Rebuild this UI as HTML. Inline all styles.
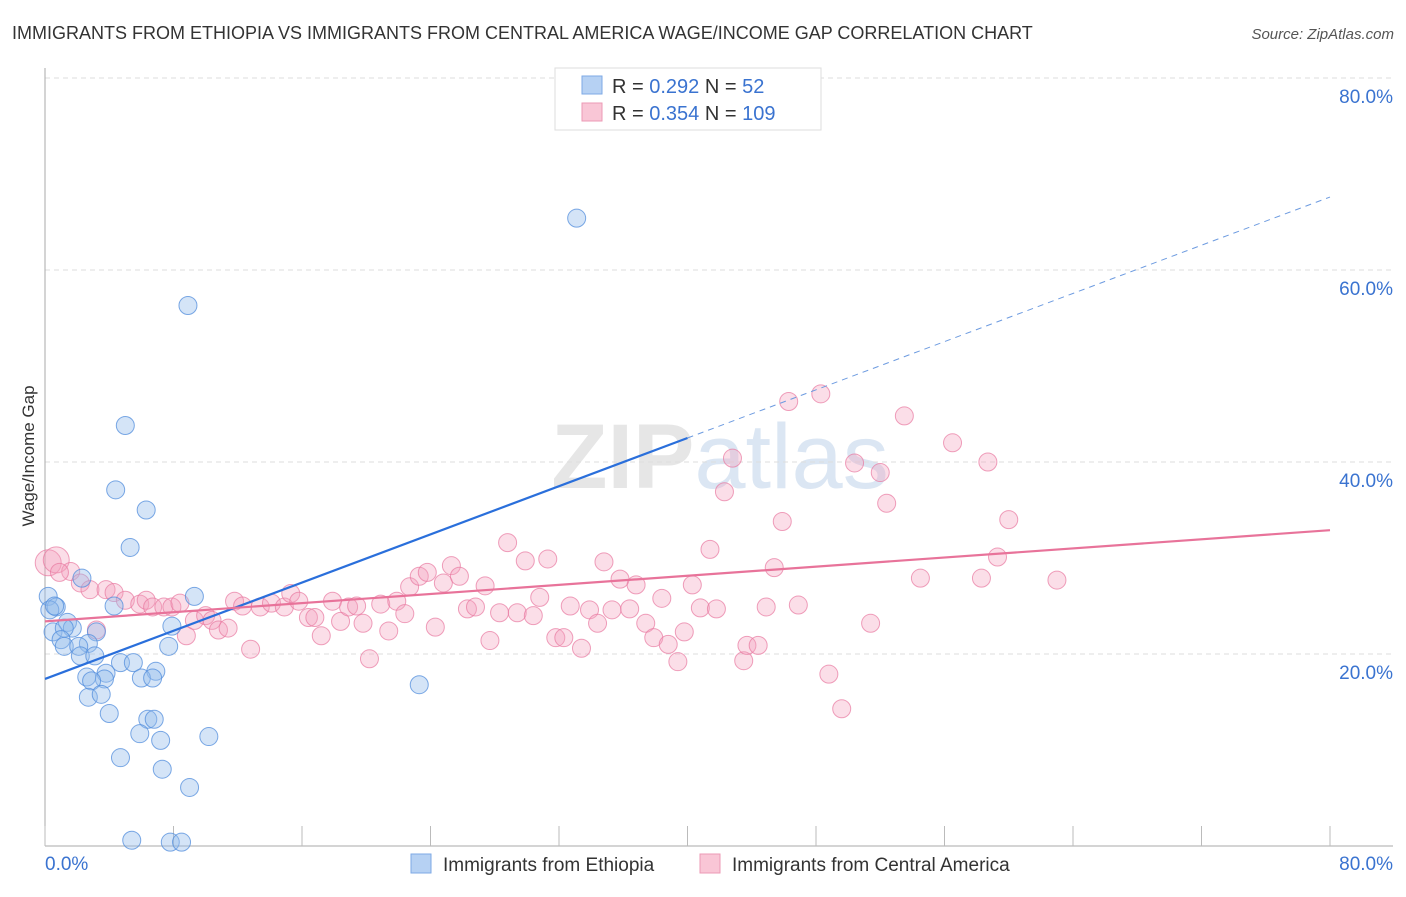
<!DOCTYPE html>
<html><head><meta charset="utf-8"><style>
body{margin:0;background:#fff;font-family:"Liberation Sans",sans-serif;}
svg text{font-family:"Liberation Sans",sans-serif;}
</style></head><body>
<svg id="chart" width="1406" height="892" xmlns="http://www.w3.org/2000/svg">
<text x="12" y="39" font-size="18" fill="#333">IMMIGRANTS FROM ETHIOPIA VS IMMIGRANTS FROM CENTRAL AMERICA WAGE/INCOME GAP CORRELATION CHART</text>
<text x="1394" y="39" font-size="15" fill="#555" text-anchor="end" font-style="italic">Source: ZipAtlas.com</text>
<text x="720" y="488" font-size="92" fill="#e6e6e6" text-anchor="middle" font-family="Liberation Serif"><tspan font-weight="bold">ZIP</tspan><tspan fill="#dbe6f3" font-family="Liberation Sans">atlas</tspan></text>
<g id="grid"></g>
<g id="axes"></g>
<g id="pts"></g>
<g id="lines"></g>
<text transform="translate(34,456) rotate(-90)" font-size="17" fill="#333" text-anchor="middle">Wage/Income Gap</text>
<g>
<rect x="555" y="68" width="266" height="62" fill="#fff" stroke="#ddd"/>
<rect x="582" y="76" width="20" height="18" fill="#b6d1f3" stroke="#7ea9e6"/>
<rect x="582" y="103" width="20" height="18" fill="#f9c6d6" stroke="#ec9ab5"/>
<text x="612" y="93" font-size="20" fill="#333">R = <tspan fill="#3a73d0">0.292</tspan>   N = <tspan fill="#3a73d0">  52</tspan></text>
<text x="612" y="120" font-size="20" fill="#333">R = <tspan fill="#3a73d0">0.354</tspan>   N = <tspan fill="#3a73d0">109</tspan></text>
</g>
<g>
<rect x="411" y="854" width="20" height="19" fill="#b6d1f3" stroke="#7ea9e6"/>
<text x="443" y="871" font-size="19" fill="#333">Immigrants from Ethiopia</text>
<rect x="700" y="854" width="20" height="19" fill="#f9c6d6" stroke="#ec9ab5"/>
<text x="732" y="871" font-size="19" fill="#333">Immigrants from Central America</text>
</g>
</svg>
<script>
const blueX=[33.1,8.9,5.0,4.4,6.3,5.3,2.3,9.3,0.2,0.7,4.3,0.3,1.4,1.7,0.5,1.2,3.2,7.9,1.0,2.7,1.2,2.1,7.7,2.2,3.1,4.7,5.5,3.8,6.9,2.6,3.7,6.0,6.7,2.9,23.3,2.7,3.5,4.0,6.4,6.8,5.9,7.2,10.2,4.7,7.3,9.0,5.4,7.8,8.5,0.6];
const blueY=[65.4,56.3,43.8,37.1,35.0,31.1,27.9,26.0,26.0,24.9,25.0,24.6,23.3,22.7,22.3,22.7,22.3,22.9,21.5,21.1,20.8,20.8,20.8,19.8,19.8,19.1,19.1,18.0,18.2,17.6,17.4,17.5,17.5,17.2,16.8,15.5,15.8,13.8,13.2,13.2,11.7,11.0,11.4,9.2,8.0,6.1,0.6,0.4,0.4,25.0];
const pinkX=[0.2,0.7,1.6,2.2,2.8,3.8,4.3,5.0,5.9,6.3,6.7,7.4,7.9,8.4,3.2,8.8,9.3,10.0,10.4,10.8,11.4,11.8,12.3,12.8,13.4,14.1,14.9,15.3,15.8,16.4,16.8,17.2,17.9,18.4,18.9,19.4,19.8,20.2,20.9,21.4,21.9,22.4,22.7,23.3,23.8,24.3,24.8,25.3,25.8,26.3,26.8,27.4,27.7,28.3,28.8,29.4,29.9,30.4,30.8,31.3,31.8,32.3,32.7,33.4,33.9,34.4,34.8,35.3,35.8,36.4,36.8,37.4,37.9,38.4,38.8,39.4,39.8,40.3,40.8,41.4,41.8,42.3,42.8,43.5,43.7,44.4,44.9,45.4,45.9,46.3,46.9,48.3,48.8,49.6,50.4,51.4,52.0,52.4,53.5,54.5,56.5,58.3,58.7,59.3,60.0,63.0,0.9];
const pinkY=[29.5,29.8,28.6,27.4,26.7,26.7,26.4,25.6,25.2,25.6,24.9,24.9,24.9,25.3,22.5,21.9,23.5,24.0,23.5,22.5,22.7,25.5,25.0,20.5,24.9,25.3,24.9,26.3,25.5,23.8,23.8,21.9,25.5,23.4,24.9,25.0,23.2,19.5,25.2,22.4,25.5,24.2,27.0,28.1,28.5,22.8,27.4,29.2,28.1,24.7,24.9,27.1,21.4,24.3,31.6,24.3,29.7,24.0,25.9,29.9,21.7,21.7,25.0,20.6,24.6,23.2,29.6,24.6,27.8,24.7,27.2,23.2,21.7,25.8,21.0,19.2,22.3,27.2,24.8,30.9,24.7,36.9,40.4,19.3,20.9,20.9,24.9,29.0,33.8,46.3,25.1,47.1,17.9,14.3,39.9,23.2,38.9,35.7,44.8,27.9,42.0,27.9,40.0,30.1,34.0,27.7,28.5];
const blueTrend=[17.4,67.6];
const pinkTrend=[23.4,32.9];
const blueSolidEnd=40;
const yTicks=[20,40,60,80];
const xTickLabels=["0.0%","80.0%"];

const NS="http://www.w3.org/2000/svg";
const sx=v=>45+v/80*1285;
const sy=v=>846-v*9.6;
function mk(tag,attrs,parent){const e=document.createElementNS(NS,tag);for(const k in attrs)e.setAttribute(k,attrs[k]);document.getElementById(parent).appendChild(e);return e;}

yTicks.forEach(t=>{
  const g=mk('line',{x1:45,x2:1393,y1:sy(t),y2:sy(t),stroke:'#ddd','stroke-dasharray':'5,4'},'grid');
  
  
  const l=mk('text',{x:1393,y:sy(t)+25,'font-size':19,fill:'#3a73d0','text-anchor':'end'},'grid');
  l.textContent=t.toFixed(1)+'%';
  
  
});
const ax=mk('line',{x1:45,x2:45,y1:68,y2:846,stroke:'#aaa'},'axes');


const bx=mk('line',{x1:45,x2:1393,y1:846,y2:846,stroke:'#aaa'},'axes');


for(let i=0;i<=10;i++){
  const t=mk('line',{x1:sx(i*8),x2:sx(i*8),y1:826,y2:846,stroke:'#bbb'},'axes');
  
  
}
const xl0=mk('text',{x:45,y:870,'font-size':19,fill:'#3a73d0'},'axes');
xl0.textContent=xTickLabels[0];


const xl1=mk('text',{x:1393,y:870,'font-size':19,fill:'#3a73d0','text-anchor':'end'},'axes');
xl1.textContent=xTickLabels[1];



pinkX.forEach((x,i)=>{
  const c=mk('circle',{cx:sx(x),cy:sy(pinkY[i]),r:i<2?13:9,fill:'rgba(244,160,190,0.35)',stroke:'rgba(232,120,160,0.7)','stroke-width':1},'pts');
  
  
});
blueX.forEach((x,i)=>{
  const c=mk('circle',{cx:sx(x),cy:sy(blueY[i]),r:9,fill:'rgba(147,187,235,0.4)',stroke:'rgba(80,140,220,0.75)','stroke-width':1},'pts');
  
  
});
const bAt=x=>blueTrend[0]+(blueTrend[1]-blueTrend[0])*x/80;
const l1=mk('line',{x1:sx(0),y1:sy(bAt(0)),x2:sx(blueSolidEnd),y2:sy(bAt(blueSolidEnd)),stroke:'#2a6fdb','stroke-width':2.2},'lines');


const l2=mk('line',{x1:sx(blueSolidEnd),y1:sy(bAt(blueSolidEnd)),x2:sx(80),y2:sy(bAt(80)),stroke:'#6d9be0','stroke-width':1,'stroke-dasharray':'6,5'},'lines');


const l3=mk('line',{x1:sx(0),y1:sy(pinkTrend[0]),x2:sx(80),y2:sy(pinkTrend[1]),stroke:'#e8739a','stroke-width':2.2},'lines');


</script>
</body></html>
